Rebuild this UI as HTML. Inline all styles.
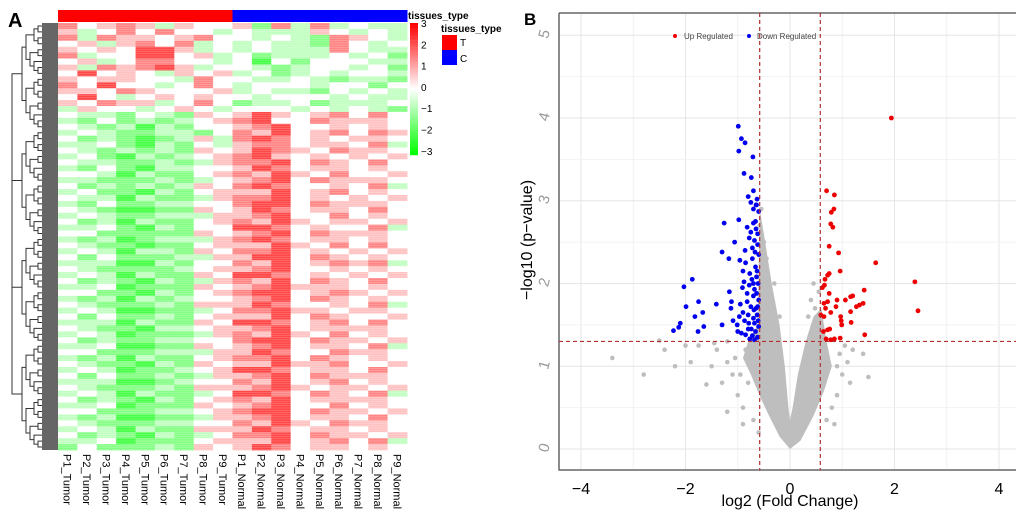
<!DOCTYPE html>
<html><head><meta charset="utf-8"><style>
body{margin:0;background:#fff;width:1020px;height:513px;overflow:hidden;font-family:"Liberation Sans",sans-serif}
svg{position:absolute;left:0;top:0}
</style></head><body>
<svg id="fig" width="1020" height="513" font-family="Liberation Sans, sans-serif">
<g id="hm"></g>
<g id="vc"></g>
</svg>
<script>
const samples=["P1_Tumor","P2_Tumor","P3_Tumor","P4_Tumor","P5_Tumor","P6_Tumor","P7_Tumor","P8_Tumor","P9_Tumor","P1_Normal","P2_Normal","P3_Normal","P4_Normal","P5_Normal","P6_Normal","P7_Normal","P8_Normal","P9_Normal"];
const groups=["T","T","T","T","T","T","T","T","T","C","C","C","C","C","C","C","C","C"];
const hmRows=["534542433415252322","423535332322243232","525443453323215432","342453523232215323","434366423232225322","523366342312223231","342355332303133322","425456423321233231","363432434231232332","434433253322321221","536332353233323313","443543334232213232","363234343323332322","435442353122312223","243323432333232321",
"322132143464345353","213121234563354443","321202133456334343","232112213546345354","312101242565343443","223102132455344352","321212143465435443","231021234564343434","322112124556354353","213102233465344343","332021134546435334","221112123456354443","312121243565334352","231102134446345343","322021124556343434","213112233566354443","321001143465344353","232112224456335343","312021134546434434","223102133665343352","331111143456354443","212012224565344343","321101134446435353","232022143556343434","313111224466354343","222002133546345452","321111234456334343","232021143665343434","312102124546354353","223011143456444343","331102134566345434","212021233456354343","321112144465334352","232001123556443443","313112134446354334","222021143665345353","321102234456344443","232011124546435343","312112233566354434","223001143456344352","331112224465335443","212021134556354343","321102143446445334","232011234665344353","313112124456354443","222001233546345343","321112144456434434","232021123665354352","312102134546344443","223011143456335343","331112234566354434","212001124456344353","321112233546435443","232021144465344343","312102123556354434","223011134446345352","131112143465344343"];
const cbTicks=[3,2,1,0,-1,-2,-3];
const NS="http://www.w3.org/2000/svg";
function mk(p,tag,at,txt){const e=document.createElementNS(NS,tag);for(const k in at)e.setAttribute(k,at[k]);if(txt!==undefined)e.textContent=txt;p.appendChild(e);return e;}
function col(v,soft){const t=Math.min(1,Math.abs(v)/3)*(soft?0.72:1);if(v>=0){const g=Math.round(255*(1-t));return `rgb(255,${g},${g})`;}const r=Math.round(255*(1-t));return `rgb(${r},255,${r})`;}
const hm=document.getElementById('hm');
const hx0=58,hx1=407,hy0=23,hy1=450;
const cw=(hx1-hx0)/samples.length, rh=(hy1-hy0)/hmRows.length;
const lettA=mk(hm,'text',{x:8,y:27,'font-size':20,'font-weight':'bold'},'A');

groups.forEach((g,i)=>{const r=mk(hm,'rect',{x:hx0+i*cw,y:10,width:cw+0.5,height:12,fill:g==='T'?'#ff0000':'#0000ff'});
});
hmRows.forEach((row,ri)=>{for(let ci=0;ci<samples.length;ci++){const v=parseInt(row[ci])-3;
const c=mk(hm,'rect',{x:hx0+ci*cw,y:hy0+ri*rh,width:cw+0.4,height:rh+0.4,fill:col(v,true)});
}});
// thin horizontal striping like the dense original rows
for(let y=hy0;y<hy1;y+=2.2){mk(hm,'line',{x1:hx0,x2:hx1,y1:y,y2:y,stroke:'#fff','stroke-width':0.5,opacity:0.35});}
samples.forEach((s,i)=>{const x=hx0+(i+0.5)*cw-4;const t=mk(hm,'text',{x:0,y:0,'font-size':11,transform:`translate(${x},454) rotate(90)`},s);
});
function tree(a,b,depth){if(b-a<=1){return {y:hy0+(a+0.5)*rh,x:42};}
const m=Math.floor((a+b)/2);const L=tree(a,m,depth+1),R=tree(m,b,depth+1);
const x=Math.max(12,Math.min(L.x,R.x)-4-(depth<2?8:0));
mk(hm,'path',{d:`M${L.x},${L.y}H${x}V${R.y}H${R.x}`,fill:'none',stroke:'#333','stroke-width':1});return {x:x,y:(L.y+R.y)/2};}
tree(0,hmRows.length,0);
const leaves=mk(hm,'rect',{x:42,y:hy0,width:16,height:hy1-hy0,fill:'#666'});

for(let i=0;i<60;i++){const v=3-6*i/59;mk(hm,'rect',{x:410,y:23+i*2.2,width:8,height:2.4,fill:col(v,false)});}
cbTicks.forEach(v=>{const y=27+(3-v)*21.3;const t=mk(hm,'text',{x:421,y:y,'font-size':10},v<0?'\u2212'+(-v):String(v));
});
const lt1=mk(hm,'text',{x:408,y:19,'font-size':10,'font-weight':'bold'},'tissues_type');

const lt2=mk(hm,'text',{x:441,y:32,'font-size':10,'font-weight':'bold'},'tissues_type');

mk(hm,'rect',{x:442,y:35,width:15,height:15,fill:'#ff0000'});mk(hm,'rect',{x:442,y:50,width:15,height:15,fill:'#0000ff'});
const lT=mk(hm,'text',{x:460,y:46,'font-size':10},'T');
const lC=mk(hm,'text',{x:460,y:62,'font-size':10},'C');

const xTicks=[-4,-2,0,2,4];
const yTicks=[0,1,2,3,4,5];
const downPts=[[-0.99,3.9],[-0.93,3.75],[-0.86,3.7],[-0.98,3.6],[-0.71,3.53],[-0.88,3.33],[-0.74,3.28],[-0.7,3.12],[-0.8,3.05],[-0.63,3.02],[-0.75,2.98],[-0.64,2.95],[-0.7,2.9],[-0.6,2.87],[-1.26,2.73],[-0.98,2.77],[-0.7,2.73],[-0.82,2.68],[-0.65,2.66],[-1.06,2.5],[-0.78,2.55],[-0.68,2.52],[-0.62,2.47],[-1.3,2.38],[-0.72,2.43],[-1.17,2.3],[-0.96,2.28],[-0.85,2.25],[-0.72,2.3],[-0.66,2.2],[-0.9,2.15],[-0.77,2.12],[-0.64,2.08],[-1.87,2.05],[-2.03,1.96],[-0.91,1.95],[-0.78,1.98],[-0.68,1.93],[-1.16,1.9],[-0.82,1.88],[-0.7,1.85],[-1.75,1.78],[-1.41,1.75],[-1.12,1.78],[-0.95,1.75],[-0.75,1.72],[-0.65,1.7],[-1.99,1.72],[-1.67,1.65],[-1.13,1.7],[-0.97,1.6],[-0.8,1.62],[-0.7,1.58],[-1.82,1.6],[-1.09,1.55],[-0.87,1.55],[-0.68,1.52],[-2.1,1.52],[-1.3,1.5],[-1.65,1.48],[-1.01,1.5],[-0.8,1.45],[-0.66,1.42],[-2.13,1.47],[-2.23,1.43],[-1.76,1.42],[-1.0,1.42],[-0.85,1.38],[-0.72,1.37],[-0.62,1.35],[-0.77,1.33],[-0.68,1.32],[-0.62,2.6],[-0.66,2.75],[-0.6,2.35],[-0.63,2.15],[-0.61,2.0],[-0.6,1.8],[-0.63,1.62],[-0.6,1.48],[-0.64,1.88],[-0.73,2.05],[-0.82,1.78],[-0.9,1.65],[-0.74,1.45],[-0.86,2.4],[-0.75,2.62],[-0.67,2.38],[-0.61,1.55],[-0.93,1.4],[-0.65,2.95],[-0.7,2.0],[-0.79,1.52],[-0.88,2.02],[-0.69,1.68],[-0.62,1.72]];
const upPts=[[0.7,3.12],[0.85,3.07],[0.84,2.9],[0.79,2.86],[0.78,2.72],[0.82,2.68],[0.75,2.45],[0.93,2.37],[1.64,2.25],[0.96,2.15],[0.75,2.12],[0.72,2.1],[0.67,2.05],[0.66,1.98],[0.62,1.95],[2.39,2.02],[1.42,1.92],[0.75,1.88],[1.2,1.85],[1.16,1.84],[0.9,1.8],[1.06,1.8],[0.65,1.76],[0.72,1.78],[1.4,1.76],[1.33,1.74],[1.27,1.72],[0.88,1.72],[0.68,1.7],[2.45,1.67],[1.16,1.66],[0.78,1.65],[0.59,1.62],[0.97,1.6],[0.65,1.6],[0.98,1.55],[1.17,1.53],[0.99,1.5],[0.76,1.45],[0.72,1.44],[0.64,1.42],[1.43,1.38],[0.69,1.33],[0.85,1.33],[0.96,1.34],[0.78,1.32],[1.94,4.0]];
const grayPts=[[-3.4,1.1],[-2.8,0.9],[-2.4,1.2],[-2.2,1.0],[-1.6,0.78],[-1.3,0.8],[-1.5,1.0],[-1.2,1.05],[-1.4,1.2],[-1.0,0.65],[-0.9,0.5],[-1.2,0.45],[-0.8,0.8],[-1.05,1.1],[1.5,0.87],[1.4,1.15],[1.15,0.8],[1.1,1.05],[0.95,1.15],[0.9,0.65],[0.8,0.5],[-2.5,1.31],[-1.9,1.05],[-1.75,1.25],[-2.0,1.25],[-1.45,1.28],[-1.1,0.9],[-0.95,0.9],[0.5,1.4],[0.4,1.8],[0.35,1.6],[0.45,2.0],[0.48,1.7],[0.55,1.9],[-0.55,2.9],[-0.5,2.5],[-0.45,2.3],[-0.3,2.0],[-0.2,1.6],[-0.58,2.7],[-0.52,2.2],[0.9,1.0],[1.0,0.9],[0.85,0.3],[-0.7,0.35],[-0.9,0.3],[-0.6,0.2],[0.7,0.35],[0.6,0.75],[-0.65,1.0],[1.05,1.25],[-1.2,1.3],[-0.85,1.2],[1.2,1.2]];
const densX=[0,-0.2,-0.4,-0.55,-0.75,-0.9,-0.8,-0.62,-0.58,-0.5,-0.35,-0.2,-0.1,-0.03,0,0.05,0.15,0.3,0.45,0.6,0.7,0.8,0.65,0.45,0.2];
const densY=[0,0.15,0.4,0.6,0.9,1.1,1.3,1.5,2.9,2.6,2.0,1.5,1.0,0.5,0.35,0.5,0.9,1.3,1.6,1.7,1.3,1.0,0.7,0.4,0.1];
const vc=document.getElementById('vc');
const px0=559,px1=1016,py0=13,py1=470;
const sx=v=>790+v*52.25, sy=v=>449-v*82.75;
mk(vc,'rect',{x:px0,y:py0,width:px1-px0,height:py1-py0,fill:'#fff'});
for(let v=-4;v<=4;v+=1){mk(vc,'line',{x1:sx(v),x2:sx(v),y1:py0,y2:py1,stroke:v%2===0?'#e6e6e6':'#f2f2f2','stroke-width':1});}
for(let v=0;v<=5;v+=0.5){mk(vc,'line',{x1:px0,x2:px1,y1:sy(v),y2:sy(v),stroke:Number.isInteger(v)?'#e6e6e6':'#f2f2f2','stroke-width':1});}
mk(vc,'path',{d:`M${px0},${py0}H${px1}M${px0},${py0}V${py1}H${px1}`,fill:'none',stroke:'#666','stroke-width':1.5});
const dens=mk(vc,'polygon',{points:densX.map((x,i)=>sx(x)+','+sy(densY[i])).join(' '),fill:'#bebebe'});

grayPts.forEach(p=>{const c=mk(vc,'circle',{cx:sx(p[0]),cy:sy(p[1]),r:2.3,fill:'#bebebe'});});
downPts.forEach(p=>{const c=mk(vc,'circle',{cx:sx(p[0]),cy:sy(p[1]),r:2.4,fill:'#0000ee'});});
upPts.forEach(p=>{const c=mk(vc,'circle',{cx:sx(p[0]),cy:sy(p[1]),r:2.4,fill:'#ee0000'});});
[-0.58,0.58].forEach(v=>mk(vc,'line',{x1:sx(v),x2:sx(v),y1:py0,y2:py1,stroke:'#b03030','stroke-width':1.2,'stroke-dasharray':'4,3'}));
mk(vc,'line',{x1:px0,x2:px1,y1:sy(1.3),y2:sy(1.3),stroke:'#b03030','stroke-width':1.2,'stroke-dasharray':'4,3'});
xTicks.forEach(v=>{const t=mk(vc,'text',{x:sx(v),y:494,'font-size':16,'text-anchor':'middle'},v<0?'\u2212'+(-v):String(v));});
yTicks.forEach(v=>{const t=mk(vc,'text',{x:0,y:0,'font-size':15,fill:'#999','text-anchor':'middle',transform:`translate(549,${sy(v)}) rotate(-75)`},String(v));});
const xt=mk(vc,'text',{x:790,y:506,'font-size':16,'text-anchor':'middle'},'log2 (Fold Change)');
const yt=mk(vc,'text',{x:0,y:0,'font-size':16,'text-anchor':'middle',transform:'translate(532,240) rotate(-90)'},'\u2212log10 (p\u2212value)');
const lb=mk(vc,'text',{x:524,y:25,'font-size':17,'font-weight':'bold'},'B');
mk(vc,'circle',{cx:675,cy:36,r:2,fill:'#ee0000'});
const l1=mk(vc,'text',{x:684,y:39,'font-size':8,fill:'#444'},'Up Regulated');
mk(vc,'circle',{cx:749,cy:36,r:2,fill:'#0000ee'});
const l2=mk(vc,'text',{x:757,y:39,'font-size':8,fill:'#444'},'Down Regulated');
</script>
</body></html>
